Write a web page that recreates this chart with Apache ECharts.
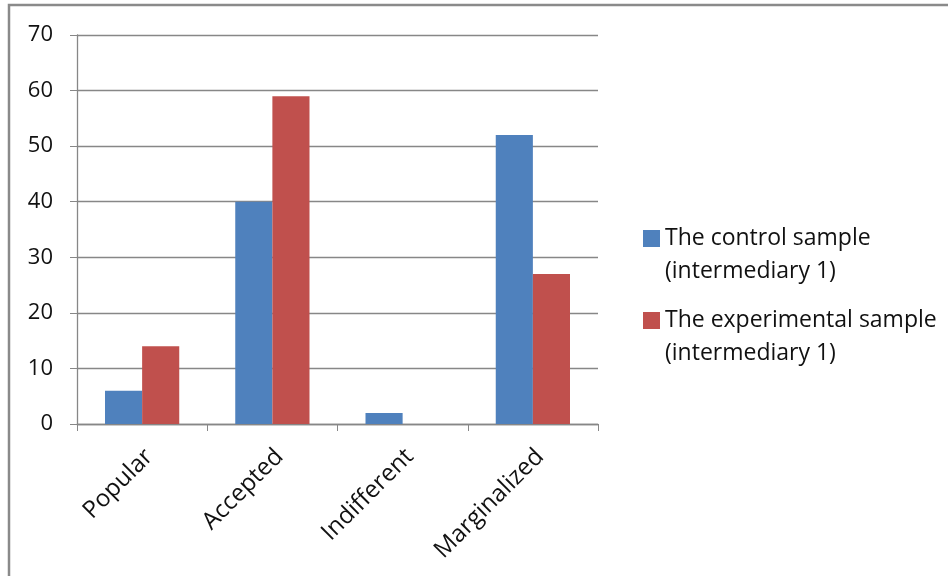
<!DOCTYPE html>
<html><head><meta charset="utf-8">
<script src="https://cdn.jsdelivr.net/npm/echarts@6/dist/echarts.min.js"></script>
<style>html,body{margin:0;padding:0;background:#fff}#c{width:948px;height:576px}</style>
</head><body><div id="c"></div>
<script>
const categories = ['Popular', 'Accepted', 'Indifferent', 'Marginalized'];
const controlValues = [6, 40, 2, 52];
const experimentalValues = [14, 59, 0, 27];
const seriesNames = ['The control sample\n(intermediary 1)', 'The experimental sample\n(intermediary 1)'];
const yTicks = [0, 10, 20, 30, 40, 50, 60, 70];

const chart = echarts.init(document.getElementById('c'));
const font = '"Open Sans", sans-serif';
chart.setOption({
  animation: false,
  graphic: [{
    type: 'rect', shape: {x: 9, y: 5, width: 1000, height: 1000},
    style: {fill: 'none', stroke: '#8a8a8a', lineWidth: 2.5}, silent: true
  }],
  grid: {left: 77, top: 35, right: 350, bottom: 152, containLabel: false},
  legend: {
    orient: 'vertical', left: 638, top: 184,
    itemWidth: 17, itemHeight: 17, itemGap: -17, icon: 'rect',
    formatter: name => '\n' + name,
    textStyle: {fontFamily: font, fontSize: 23, color: '#111', lineHeight: 33}
  },
  xAxis: {
    type: 'category', data: categories,
    axisLine: {lineStyle: {color: '#878787', width: 1.3}},
    axisTick: {show: true, length: 7, alignWithLabel: false, lineStyle: {color: '#878787'}},
    axisLabel: {rotate: 45, fontFamily: font, fontSize: 24, color: '#111', margin: 36, padding: [0, -10, 0, 0]}
  },
  yAxis: {
    type: 'value', min: yTicks[0], max: yTicks[yTicks.length - 1], interval: 10,
    axisLine: {show: true, lineStyle: {color: '#878787', width: 1.3}},
    axisTick: {show: true, length: 7, inside: false, lineStyle: {color: '#878787'}},
    splitLine: {lineStyle: {color: '#878787', width: 1.3}},
    axisLabel: {fontFamily: font, fontSize: 22, color: '#111', margin: 24}
  },
  series: [
    {name: seriesNames[0], type: 'bar', data: controlValues, barGap: '0%', barCategoryGap: '43%',
     itemStyle: {color: '#4f81bd'}},
    {name: seriesNames[1], type: 'bar', data: experimentalValues, barGap: '0%', barCategoryGap: '43%',
     itemStyle: {color: '#c0504d'}}
  ]
});
</script></body></html>
